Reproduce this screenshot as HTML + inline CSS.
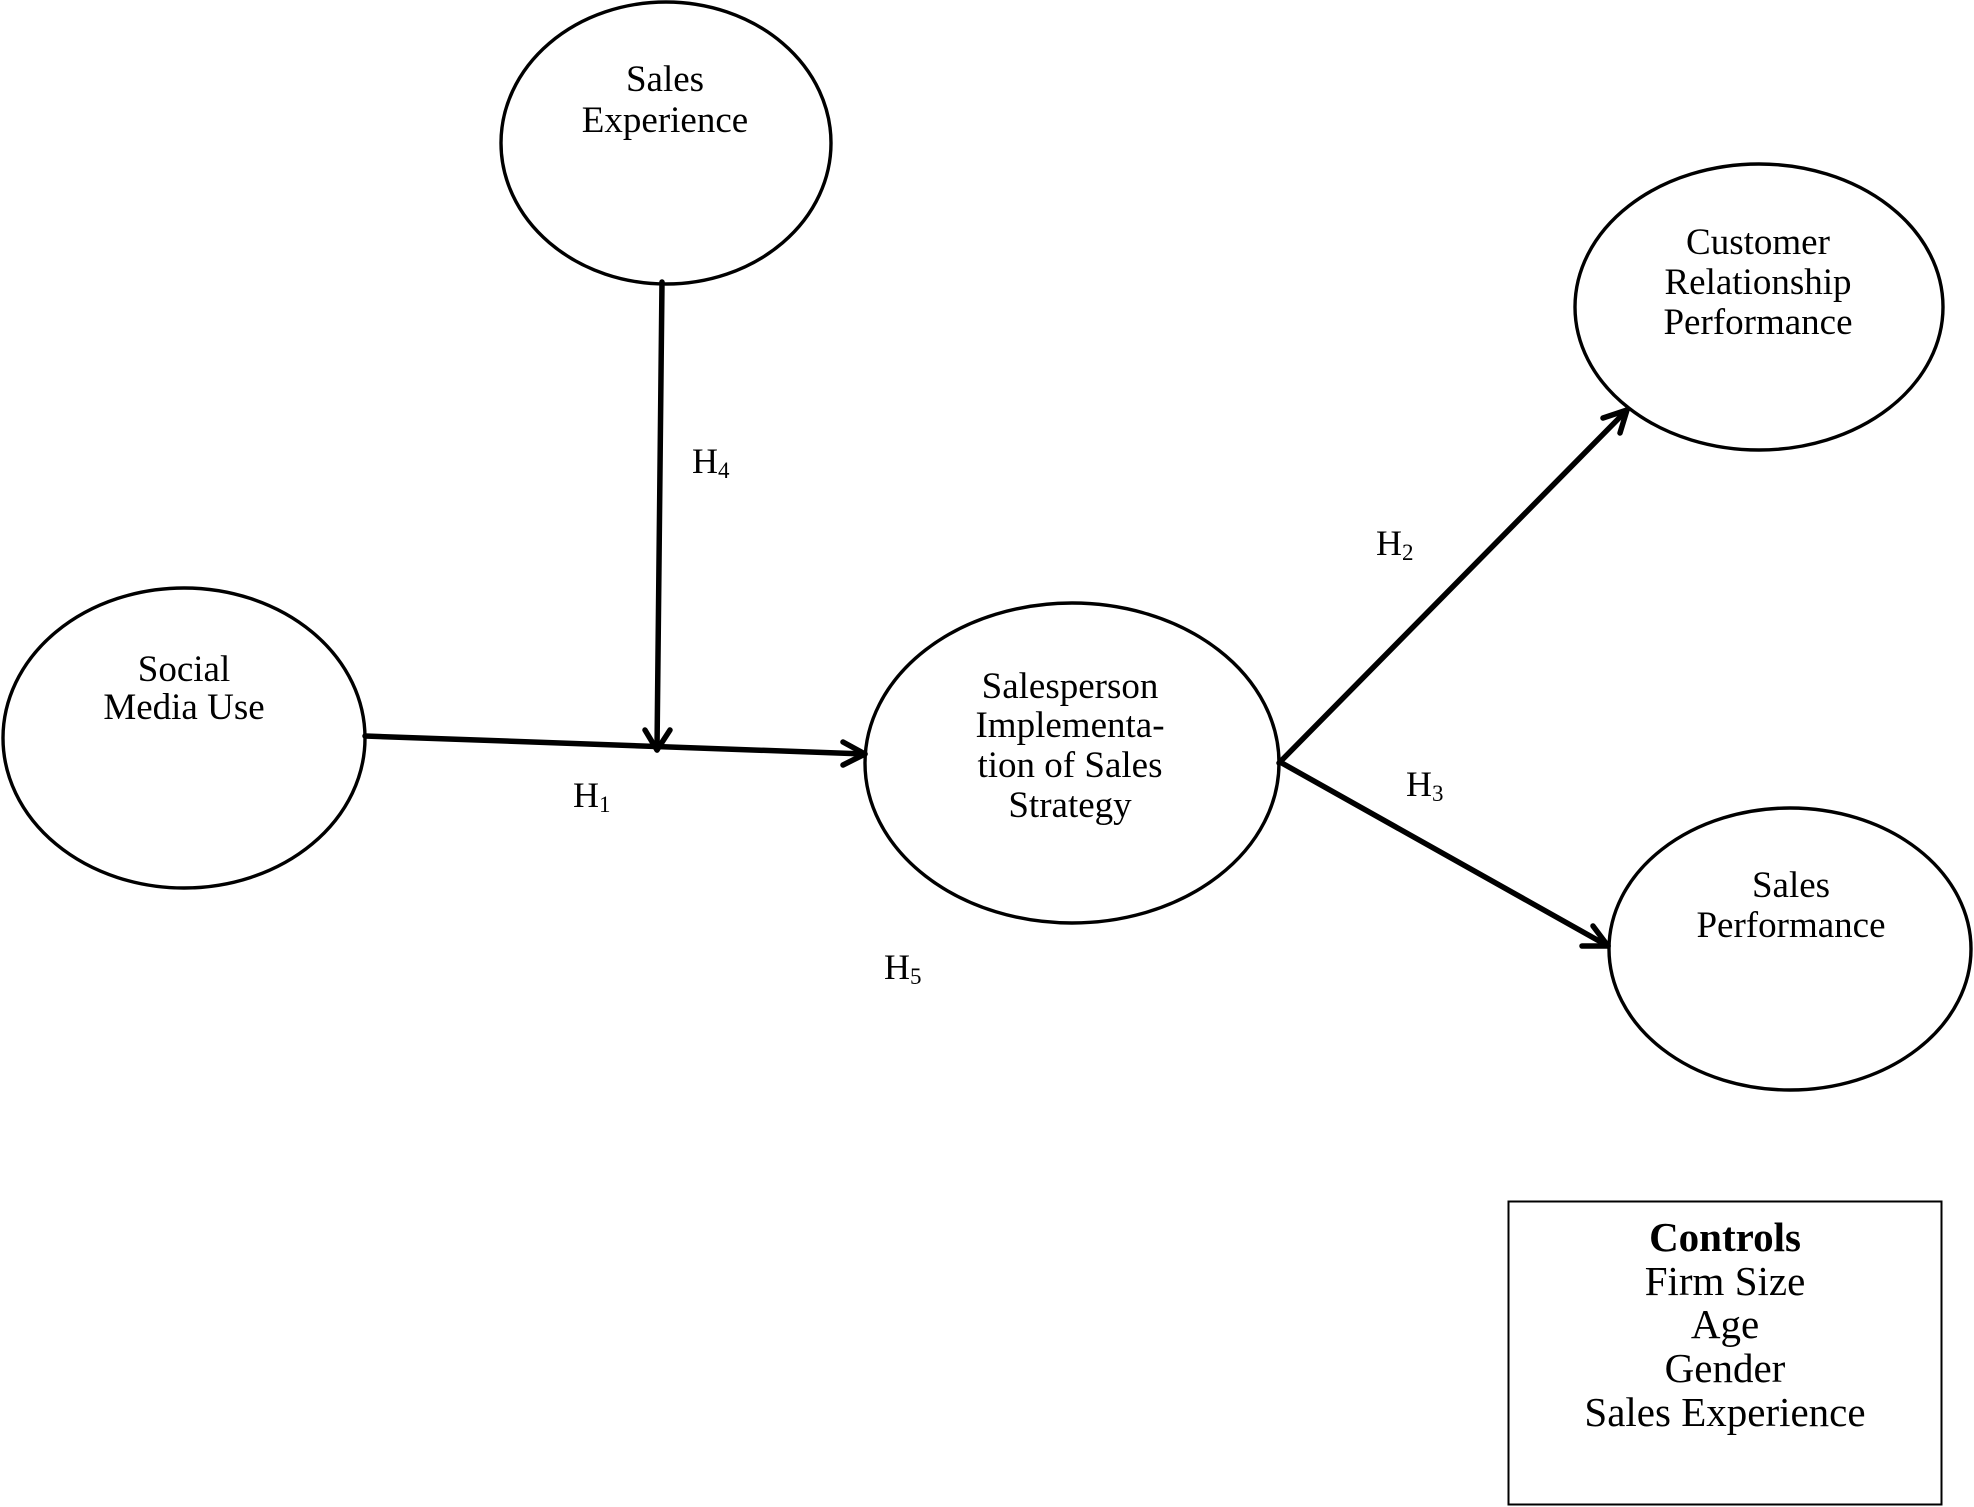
<!DOCTYPE html>
<html>
<head>
<meta charset="utf-8">
<style>
html,body{margin:0;padding:0;background:#fff;}
svg{display:block;}
text{font-family:"Liberation Serif","Times New Roman",serif;fill:#000;}
</style>
</head>
<body>
<svg width="1974" height="1507" viewBox="0 0 1974 1507" xmlns="http://www.w3.org/2000/svg">
<rect width="1974" height="1507" fill="#fff"/>
<g fill="none" stroke="#000" stroke-width="3.4">
  <ellipse cx="666" cy="143" rx="165" ry="141"/>
  <ellipse cx="184" cy="738" rx="181" ry="150"/>
  <ellipse cx="1072" cy="763" rx="207" ry="160"/>
  <ellipse cx="1759" cy="307" rx="184" ry="143"/>
  <ellipse cx="1790" cy="949" rx="181" ry="141"/>
  <rect x="1508.5" y="1201.5" width="433" height="303" stroke-width="2"/>
</g>
<g fill="none" stroke="#000" stroke-width="5.5" stroke-linecap="round" stroke-linejoin="round">
  <line x1="365" y1="736" x2="865" y2="754"/>
  <polyline points="843,742 865,754 843,765"/>
  <line x1="662" y1="282" x2="657" y2="750"/>
  <polyline points="645,730 657,750 670,730"/>
  <line x1="1279" y1="763" x2="1627" y2="410"/>
  <polyline points="1603,418 1627,410 1620,433"/>
  <line x1="1280" y1="762" x2="1608" y2="946"/>
  <polyline points="1582,946 1608,946 1593,926"/>
</g>
<g font-size="37" text-anchor="middle">
  <text x="665" y="91">Sales</text>
  <text x="665" y="132">Experience</text>
  <text x="184" y="681">Social</text>
  <text x="184" y="719">Media Use</text>
  <text x="1070" y="698">Salesperson</text>
  <text x="1070" y="737">Implementa-</text>
  <text x="1070" y="777">tion of Sales</text>
  <text x="1070" y="817">Strategy</text>
  <text x="1758" y="254">Customer</text>
  <text x="1758" y="294">Relationship</text>
  <text x="1758" y="334">Performance</text>
  <text x="1791" y="897">Sales</text>
  <text x="1791" y="937">Performance</text>
</g>
<g font-size="41" text-anchor="middle">
  <text x="1725" y="1251" font-weight="bold">Controls</text>
  <text x="1725" y="1295">Firm Size</text>
  <text x="1725" y="1338">Age</text>
  <text x="1725" y="1382">Gender</text>
  <text x="1725" y="1426">Sales Experience</text>
</g>
<g font-size="36">
  <text x="692" y="473">H<tspan font-size="23" dy="5">4</tspan></text>
  <text x="573" y="807">H<tspan font-size="23" dy="5">1</tspan></text>
  <text x="884" y="979">H<tspan font-size="23" dy="5">5</tspan></text>
  <text x="1376" y="555">H<tspan font-size="23" dy="5">2</tspan></text>
  <text x="1406" y="796">H<tspan font-size="23" dy="5">3</tspan></text>
</g>
</svg>
</body>
</html>
